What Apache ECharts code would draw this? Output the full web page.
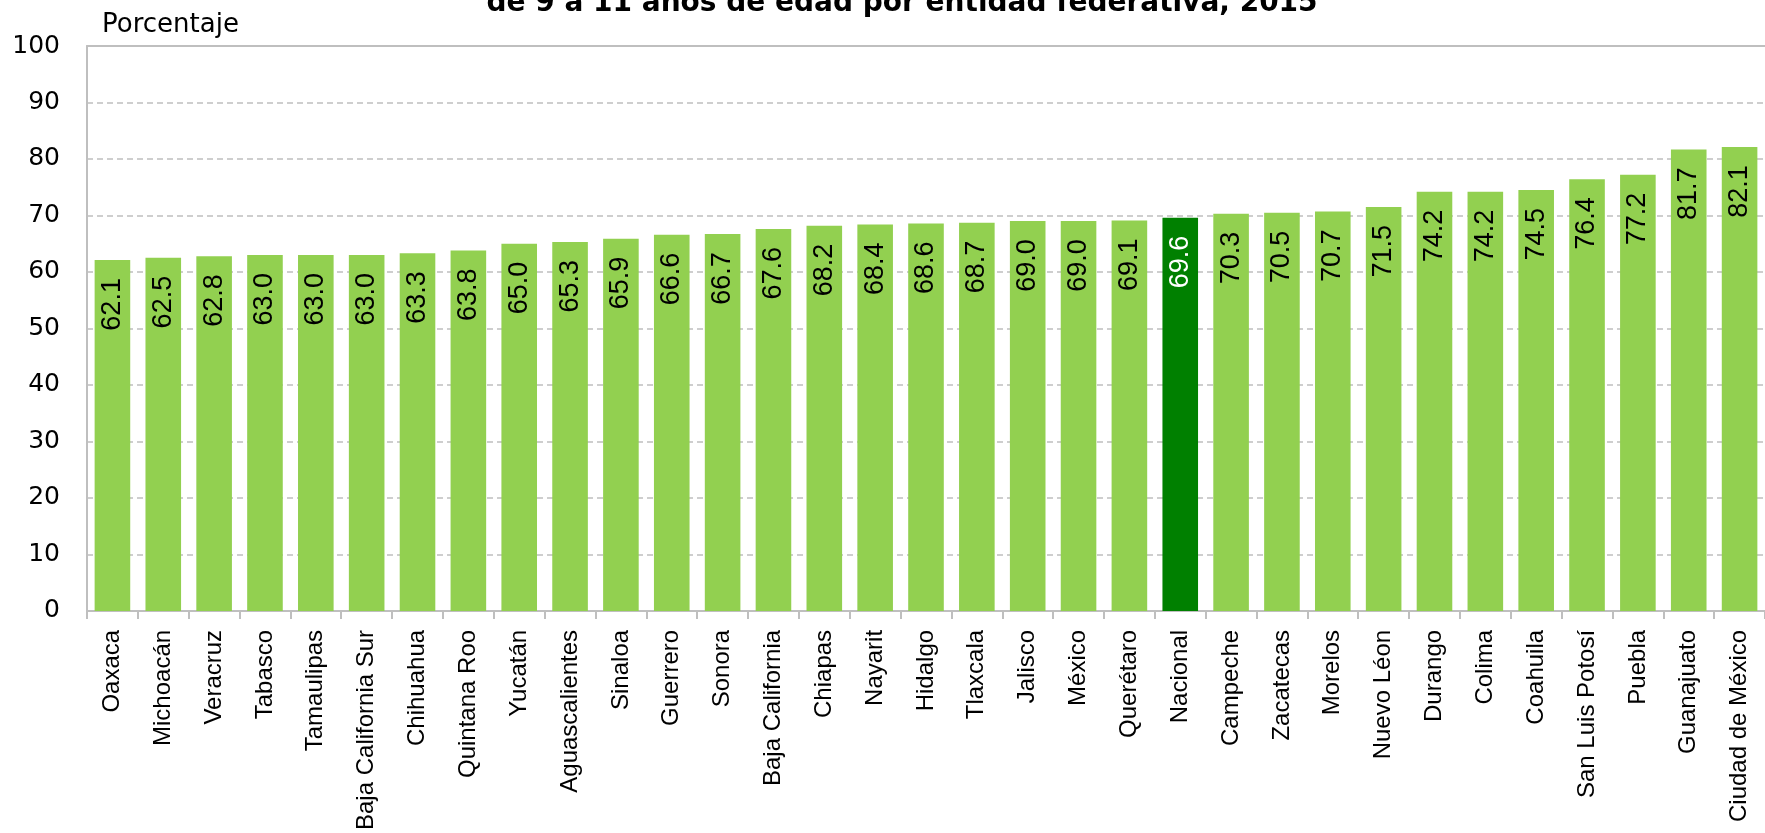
<!DOCTYPE html>
<html>
<head>
<meta charset="utf-8">
<script src="https://cdn.jsdelivr.net/npm/echarts@6/dist/echarts.min.js"></script>
<style>
  html, body { margin: 0; padding: 0; background: #ffffff; }
  #chart { width: 1765px; height: 833px; }
</style>
</head>
<body>
<div id="chart"></div>
<script>
const titleText = 'de 9 a 11 años de edad por entidad federativa, 2015';
const yAxisName = 'Porcentaje';
const categories = ['Oaxaca','Michoacán','Veracruz','Tabasco','Tamaulipas','Baja California Sur','Chihuahua','Quintana Roo','Yucatán','Aguascalientes','Sinaloa','Guerrero','Sonora','Baja California','Chiapas','Nayarit','Hidalgo','Tlaxcala','Jalisco','México','Querétaro','Nacional','Campeche','Zacatecas','Morelos','Nuevo Léon','Durango','Colima','Coahuila','San Luis Potosí','Puebla','Guanajuato','Ciudad de México'];
const values = [62.1,62.5,62.8,63.0,63.0,63.0,63.3,63.8,65.0,65.3,65.9,66.6,66.7,67.6,68.2,68.4,68.6,68.7,69.0,69.0,69.1,69.6,70.3,70.5,70.7,71.5,74.2,74.2,74.5,76.4,77.2,81.7,82.1];
const highlightCategory = 'Nacional';
const yMin = 0, yMax = 100, yInterval = 10;

const LIGHT = '#92D050';
const DARK = '#008000';
const GRID_GREY = '#BFBFBF';

const seriesData = values.map((v, i) => categories[i] === highlightCategory
  ? { value: v, itemStyle: { color: DARK }, label: { color: '#ffffff' } }
  : { value: v });

const chart = echarts.init(document.getElementById('chart'), null, { renderer: 'canvas' });
chart.setOption({
  animation: false,
  backgroundColor: '#ffffff',
  title: {
    text: titleText,
    left: 897,
    top: -15,
    textAlign: 'center',
    textStyle: { fontFamily: 'DejaVu Sans', fontWeight: 'bold', fontSize: 28, color: '#000000', lineHeight: 28 }
  },
  grid: { left: 87, right: -15, top: 46, bottom: 220, containLabel: false },
  xAxis: [{
    type: 'category',
    data: categories,
    boundaryGap: true,
    axisLine: { show: true, lineStyle: { color: GRID_GREY, width: 2 } },
    axisTick: { show: true, alignWithLabel: false, length: 8, lineStyle: { color: GRID_GREY, width: 2 } },
    axisLabel: { rotate: 90, interval: 0, margin: 19, color: '#000000', fontFamily: 'Liberation Sans', fontSize: 24 },
    splitLine: { show: false }
  }, {
    type: 'category',
    position: 'top',
    data: categories,
    axisLine: { show: true, lineStyle: { color: GRID_GREY, width: 2 } },
    axisTick: { show: false },
    axisLabel: { show: false },
    splitLine: { show: false }
  }],
  yAxis: {
    type: 'value',
    min: yMin,
    max: yMax,
    interval: yInterval,
    name: yAxisName,
    nameLocation: 'end',
    nameGap: 8,
    nameTextStyle: { align: 'left', verticalAlign: 'bottom', padding: [0, 0, 0, 15], color: '#000000', fontFamily: 'DejaVu Sans', fontSize: 26 },
    axisLine: { show: true, lineStyle: { color: GRID_GREY, width: 2 } },
    axisTick: { show: false },
    axisLabel: { margin: 27, color: '#000000', fontFamily: 'DejaVu Sans', fontSize: 25 },
    splitLine: { show: true, lineStyle: { color: GRID_GREY, width: 1.5, type: [6, 4] } }
  },
  series: [{
    type: 'bar',
    xAxisIndex: 0,
    data: seriesData,
    barCategoryGap: '30%',
    itemStyle: { color: LIGHT },
    label: {
      show: true,
      position: 'insideTop',
      rotate: 90,
      align: 'right',
      verticalAlign: 'middle',
      distance: 18,
      color: '#000000',
      fontFamily: 'Liberation Sans',
      fontSize: 27,
      formatter: p => Number(p.value).toFixed(1)
    }
  }]
});
</script>
</body>
</html>
